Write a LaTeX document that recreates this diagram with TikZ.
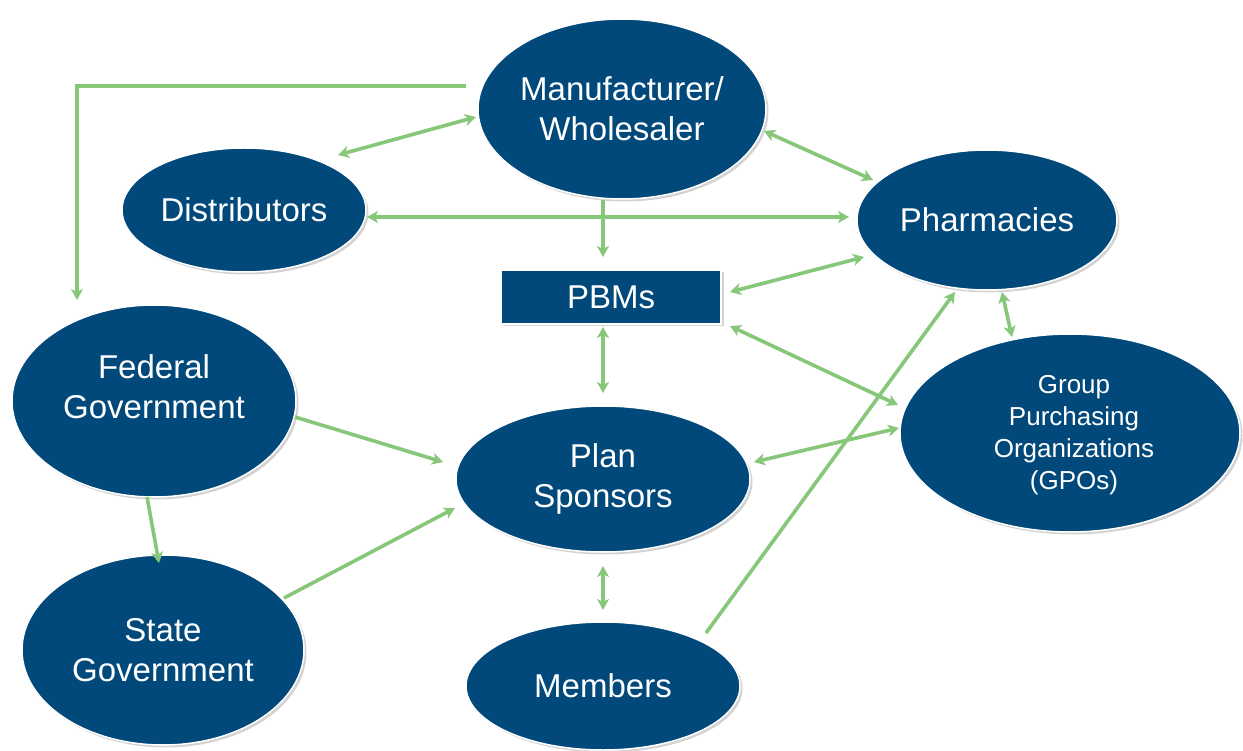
\documentclass[tikz,border=0pt]{standalone}
\usepackage{fontspec}
\setmainfont{Liberation Sans}
\usetikzlibrary{shapes.geometric,arrows.meta,calc,shadows}
\definecolor{nodeblue}{RGB}{0,73,122}
\definecolor{linkgreen}{RGB}{134,199,122}
\begin{document}
\begin{tikzpicture}[x=1pt,y=-1pt,
  ell/.style={ellipse, fill=nodeblue, draw=white, line width=1.5pt, inner sep=0pt,
    text=white, align=center, font=\fontsize{33}{40}\selectfont,
    drop shadow={opacity=0.35, shadow xshift=2.5pt, shadow yshift=-2.5pt}},
  boxnode/.style={rectangle, fill=nodeblue, draw=white, line width=1.5pt, inner sep=0pt,
    text=white, font=\fontsize{33}{40}\selectfont,
    drop shadow={opacity=0.35, shadow xshift=2.5pt, shadow yshift=-2.5pt}},
  lbl/.style={text=white, align=center, font=\fontsize{33}{40}\selectfont},
  link/.style={draw=linkgreen, line width=3.6pt},
  one/.style={link, -{Stealth[length=11pt,width=12pt,inset=3pt]}},
  two/.style={link, {Stealth[length=11pt,width=12pt,inset=3pt]}-{Stealth[length=11pt,width=12pt,inset=3pt]}}
]
\useasboundingbox (0,0) rectangle (1243,751);

\node[ell, minimum width=288pt, minimum height=180pt] (mfr) at (622,109) {Manufacturer/\\Wholesaler};
\node[ell, minimum width=244pt, minimum height=124pt] (dist) at (244,210) {Distributors};
\node[ell, minimum width=260pt, minimum height=140pt] (phar) at (987,220) {Pharmacies};
\node[boxnode, minimum width=220pt, minimum height=54pt] (pbm) at (611,297) {PBMs};
\node[ell, minimum width=284pt, minimum height=192pt] (fed) at (154,401) {};
\node[lbl] (fedtext) at ($(fed)+(0,-14)$) {Federal\\Government};
\node[ell, minimum width=340pt, minimum height=198pt] (gpo) at (1070,433) {};
\node[lbl, font=\fontsize{26}{32}\selectfont] (gpotext) at ($(gpo)+(4,2)$) {Group\\Purchasing\\Organizations\\(GPOs)};
\node[ell, minimum width=294pt, minimum height=146pt] (plan) at (603,479) {Plan\\Sponsors};
\node[ell, minimum width=282pt, minimum height=190pt] (state) at (163,650) {State\\Government};
\node[ell, minimum width=274pt, minimum height=128pt] (mem) at (603,686) {Members};

% connectors
\draw[one] ($(mfr)+(-156,-23)$) -| ($(fed)+(-77,-101)$);
\draw[two] ($(mfr)+(-146,8)$) -- ($(dist)+(94,-55)$);
\draw[two] ($(dist)+(123,7)$) -- ($(phar)+(-138,-3)$);
\draw[one] ($(mfr)+(-19,91)$) -- ($(pbm)+(-8,-40)$);
\draw[two] ($(mfr)+(142,22)$) -- ($(phar)+(-114,-40)$);
\draw[two] ($(phar)+(-123,37)$) -- ($(pbm)+(119,-5)$);
\draw[two] ($(pbm)+(119,29)$) -- ($(gpo)+(-172,-28)$);
\draw[two] ($(pbm)+(-8,30)$) -- ($(plan)+(0,-86)$);
\draw[two] ($(phar)+(15,72)$) -- ($(gpo)+(-58,-96)$);
\draw[one] ($(mem)+(103,-53)$) -- ($(phar)+(-32,72)$);
\draw[two] ($(plan)+(151,-17)$) -- ($(gpo)+(-171,-5)$);
\draw[one] ($(fed)+(141,16)$) -- ($(plan)+(-160,-17)$);
\draw[one] ($(state)+(121,-52)$) -- ($(plan)+(-148,29)$);
\draw[one] ($(fed)+(-7,96)$) -- ($(state)+(-4,-87)$);
\draw[two] ($(plan)+(0,87)$) -- ($(mem)+(0,-76)$);
\end{tikzpicture}
\end{document}
